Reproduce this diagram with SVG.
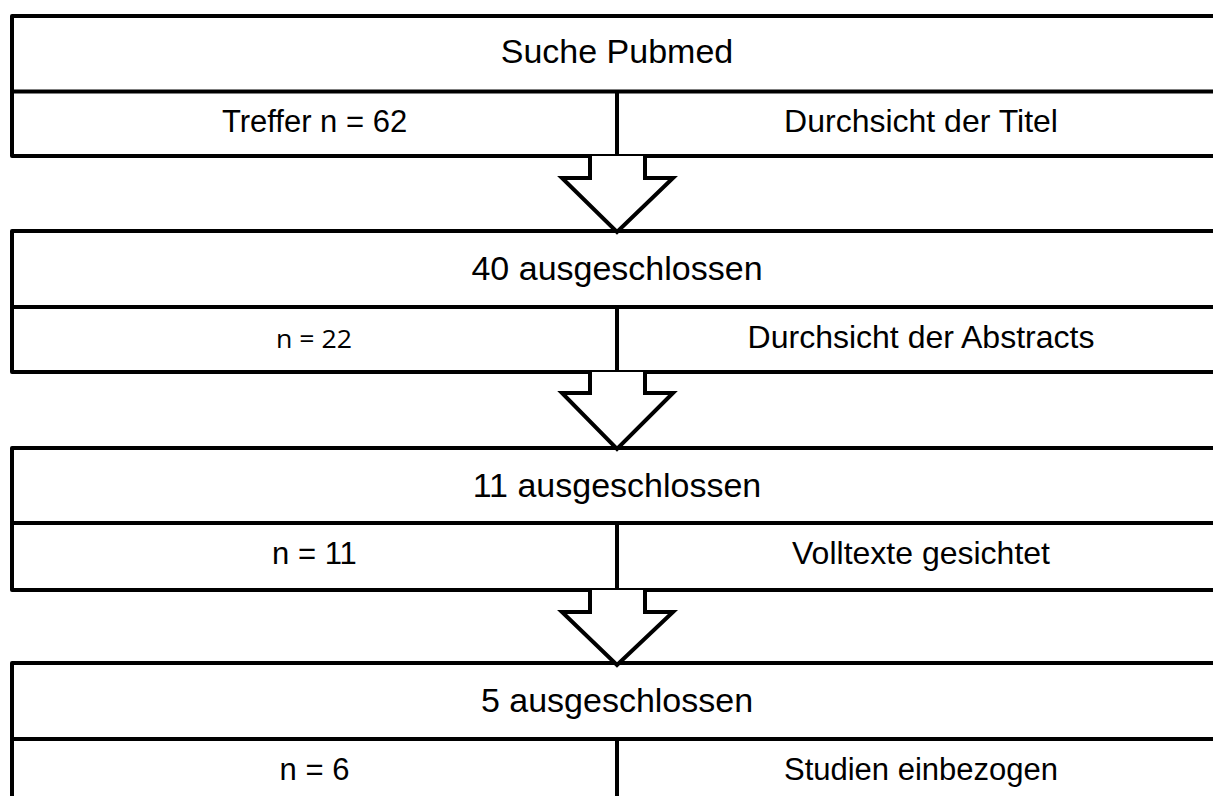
<svg xmlns="http://www.w3.org/2000/svg" width="1213" height="796" viewBox="0 0 1213 796">
<style>
.box{fill:#fff;stroke:#000;stroke-width:4;stroke-linejoin:round}
.ln{stroke:#000;stroke-width:4;fill:none}
.t{font-family:"Liberation Sans",Arial,sans-serif;font-size:31px;fill:#000;text-anchor:middle}
.h{font-size:34px}
.r{font-size:32px}
.c{font-family:"Open Sans","Noto Sans",sans-serif;font-size:26px;fill:#000}
.arr{fill:#fff;stroke:#000;stroke-width:4;stroke-linejoin:miter}
</style>
<rect width="1213" height="796" fill="#fff"/>
<g id="block1">
<rect class="box" x="12" y="16" width="1220" height="140"/>
<line class="ln" x1="12" y1="91.5" x2="1232" y2="91.5"/>
<line class="ln" x1="617" y1="91.5" x2="617" y2="156"/>
<text class="t h" x="617" y="63">Suche Pubmed</text>
<text class="t" x="314.5" y="132">Treffer n = 62</text>
<text class="t r" x="921" y="132">Durchsicht der Titel</text>
</g>
<g id="block2">
<rect class="box" x="12" y="231" width="1220" height="141"/>
<line class="ln" x1="12" y1="307" x2="1232" y2="307"/>
<line class="ln" x1="617" y1="307" x2="617" y2="372"/>
<text class="t h" x="617" y="280">40 ausgeschlossen</text>
<text class="c" x="276" y="348" textLength="76" lengthAdjust="spacingAndGlyphs">n = 22</text>
<text class="t r" x="921" y="348">Durchsicht der Abstracts</text>
</g>
<g id="block3">
<rect class="box" x="12" y="448" width="1220" height="142"/>
<line class="ln" x1="12" y1="523" x2="1232" y2="523"/>
<line class="ln" x1="617" y1="523" x2="617" y2="590"/>
<text class="t h" x="617" y="497">11 ausgeschlossen</text>
<text class="t" x="314.5" y="564">n = 11</text>
<text class="t r" x="921" y="564">Volltexte gesichtet</text>
</g>
<g id="block4">
<rect class="box" x="12" y="663" width="1220" height="160"/>
<line class="ln" x1="12" y1="739" x2="1232" y2="739"/>
<line class="ln" x1="617" y1="739" x2="617" y2="823"/>
<text class="t h" x="617" y="712">5 ausgeschlossen</text>
<text class="t" x="314.5" y="780">n = 6</text>
<text class="t" x="921" y="780">Studien einbezogen</text>
</g>
<g id="connectors">
<path class="arr" d="M590,156 L590,178 L562,178 L617,232 L673,178 L645,178 L645,156"/>
<path class="arr" d="M590,372 L590,393 L562,393 L617,449 L673,393 L645,393 L645,372"/>
<path class="arr" d="M590,590 L590,612 L562,612 L617,665 L673,612 L645,612 L645,590"/>
</g>
</svg>
